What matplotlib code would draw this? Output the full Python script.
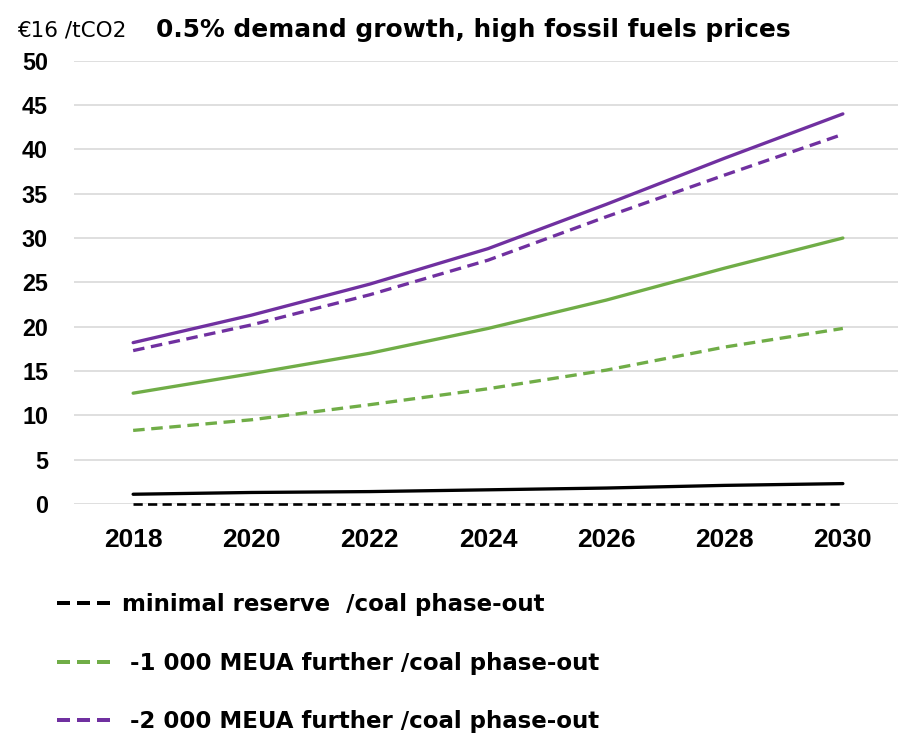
import matplotlib
matplotlib.use("Agg")
import matplotlib.pyplot as plt

plt.rcParams['font.family'] = ['Liberation Sans', 'DejaVu Sans']

years = [2018, 2020, 2022, 2024, 2026, 2028, 2030]
min_reserve_coal = [0, 0, 0, 0, 0, 0, 0]
min_reserve = [1.1, 1.3, 1.4, 1.6, 1.8, 2.1, 2.3]
meua1000_coal = [8.3, 9.5, 11.2, 13.0, 15.1, 17.7, 19.8]
meua1000 = [12.5, 14.7, 17.0, 19.8, 23.0, 26.6, 30.0]
meua2000_coal = [17.3, 20.2, 23.6, 27.5, 32.4, 37.1, 41.7]
meua2000 = [18.2, 21.3, 24.8, 28.8, 33.8, 39.0, 44.0]

labels = ["minimal reserve  /coal phase-out",
          " -1 000 MEUA further /coal phase-out",
          " -2 000 MEUA further /coal phase-out"]
yticks = [0, 5, 10, 15, 20, 25, 30, 35, 40, 45, 50]

BLACK = "#000000"
GREEN = "#70AD47"
PURPLE = "#7030A0"

W, H = 898, 736
fig = plt.figure(figsize=(W / 100, H / 100), dpi=100)
ax = fig.add_axes([74 / W, (H - 504) / H, (902 - 74) / W, 443.3 / H])

lw = 3.3 * 72 / 100
dash = (3.5, 2.0)

ax.plot(years, min_reserve, color=BLACK, lw=lw, solid_capstyle='round')
ax.plot(years, meua1000, color=GREEN, lw=lw, solid_capstyle='round')
ax.plot(years, meua2000, color=PURPLE, lw=lw, solid_capstyle='round')
h1, = ax.plot(years, min_reserve_coal, color=BLACK, lw=lw * 0.8, dashes=dash,
              clip_on=False)
h2, = ax.plot(years, meua1000_coal, color=GREEN, lw=lw, dashes=dash)
h3, = ax.plot(years, meua2000_coal, color=PURPLE, lw=lw, dashes=dash)

ax.set_xlim(2017, 2031)
ax.set_ylim(0, 50)
ax.set_xticks(years)
ax.set_xticklabels([str(y) for y in years])
ax.set_yticks(yticks)
ax.set_yticklabels([str(v) for v in yticks])
ax.yaxis.grid(True, color="#D9D9D9", lw=1.2)
ax.set_axisbelow(True)
for s in ax.spines.values():
    s.set_visible(False)
ax.tick_params(axis='both', length=0)
ax.tick_params(axis='y', pad=18.7, labelsize=16.8)
ax.tick_params(axis='x', pad=17, labelsize=19)
for t in ax.get_xticklabels() + ax.get_yticklabels():
    t.set_fontweight('bold')

fig.text(17 / W, 1 - 37 / H, "€16 /tCO2", fontsize=15.5, ha='left',
         va='baseline', family='DejaVu Sans')
fig.text(156 / W, 1 - 37 / H, "0.5% demand growth, high fossil fuels prices",
         fontsize=17.9, fontweight='bold', ha='left', va='baseline',
         family='DejaVu Sans')

leg_lines = []
for h in (h1, h2, h3):
    l, = ax.plot([], [], color=h.get_color(), lw=4 * 72 / 100, dashes=(3.25, 1.75))
    leg_lines.append(l)

fs = 16.5
fspx = fs * 100 / 72
leg = fig.legend(leg_lines, labels, loc='upper left',
                 bbox_to_anchor=(57 / W, 1 - 593 / H), frameon=False,
                 prop={'size': fs, 'weight': 'bold', 'family': 'DejaVu Sans'},
                 handlelength=54 / fspx, handletextpad=11 / fspx,
                 labelspacing=1.55, borderpad=0, borderaxespad=0)

fig.savefig("out.png", dpi=100)
